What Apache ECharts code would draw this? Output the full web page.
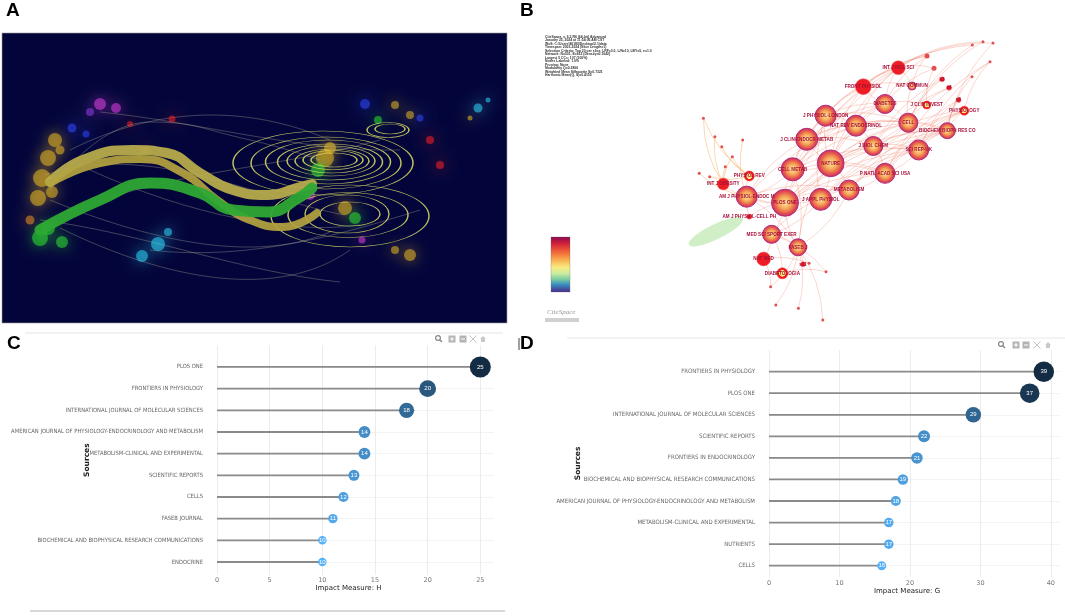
<!DOCTYPE html>
<html>
<head>
<meta charset="utf-8">
<script src="https://cdn.jsdelivr.net/npm/echarts@6/dist/echarts.min.js"></script>
<style>
  html, body { margin: 0; padding: 0; background: #fff; }
  #main { width: 1065px; height: 616px; }
</style>
</head>
<body>
<div id="main"></div>
<script>
// ---- panel C : impact measure H ----
var cSources = ['PLOS ONE', 'FRONTIERS IN PHYSIOLOGY', 'INTERNATIONAL JOURNAL OF MOLECULAR SCIENCES',
  'AMERICAN JOURNAL OF PHYSIOLOGY-ENDOCRINOLOGY AND METABOLISM', 'METABOLISM-CLINICAL AND EXPERIMENTAL',
  'SCIENTIFIC REPORTS', 'CELLS', 'FASEB JOURNAL', 'BIOCHEMICAL AND BIOPHYSICAL RESEARCH COMMUNICATIONS', 'ENDOCRINE'];
var cH = [25, 20, 18, 14, 14, 13, 12, 11, 10, 10];

// ---- panel D : impact measure G ----
var dSources = ['FRONTIERS IN PHYSIOLOGY', 'PLOS ONE', 'INTERNATIONAL JOURNAL OF MOLECULAR SCIENCES',
  'SCIENTIFIC REPORTS', 'FRONTIERS IN ENDOCRINOLOGY', 'BIOCHEMICAL AND BIOPHYSICAL RESEARCH COMMUNICATIONS',
  'AMERICAN JOURNAL OF PHYSIOLOGY-ENDOCRINOLOGY AND METABOLISM', 'METABOLISM-CLINICAL AND EXPERIMENTAL',
  'NUTRIENTS', 'CELLS'];
var dG = [39, 37, 29, 22, 21, 19, 18, 17, 17, 16];

// ---- panel A : dual-map overlay (picture coordinates) ----
var aBandUpper = [[50,182],[83,160],[133,150],[167,153],[200,173],[233,190],[267,195],[300,187],[312,184]];
var aBandLower = [[50,183],[100,163],[140,159],[183,173],[217,200],[250,220],[283,227],[317,213]];
var aBandGreen = [[40,230],[100,200],[150,183],[200,193],[233,210],[267,212],[300,197],[312,188]];
var aThin = [
  [[50,190],[150,122],[250,140],[320,160]],
  [[50,200],[160,245],[260,262],[330,232]],
  [[60,228],[170,282],[280,300],[350,250]],
  [[100,112],[200,122],[300,152],[400,150]],
  [[150,250],[250,262],[350,232],[420,210]],
  [[40,220],[140,232],[240,272],[340,282]],
  [[70,150],[170,100],[260,110],[330,140]],
  [[90,170],[190,215],[290,235],[360,225]],
  [[45,175],[150,140],[260,200],[345,215]],
  [[60,215],[170,170],[270,170],[380,140]]
];
var aClouds = [
  [55,140,14,0],[48,158,16,0],[42,178,18,0],[38,198,16,0],[60,150,9,0],[30,220,9,6],[52,192,12,0],
  [48,228,14,1],[40,238,16,1],[62,242,12,1],[100,104,12,2],[116,108,10,2],[90,112,8,7],
  [72,128,9,3],[86,134,7,3],[130,124,6,4],[145,150,6,4],[172,119,7,4],[158,244,14,5],
  [142,256,12,5],[168,232,8,5],
  [325,158,18,0],[318,170,14,1],[330,148,12,0],[310,195,10,2],[345,208,14,0],[355,218,12,1],
  [365,104,10,3],[378,120,8,1],[395,105,8,0],[410,115,8,0],[430,140,8,4],[440,165,8,4],
  [420,118,7,3],[478,108,9,5],[488,100,5,5],[410,255,12,0],[395,250,8,0],[362,240,7,2],[470,118,5,0]
];
var aRings = [
  [323,163,180,64],[326,163,150,52],[328,162,125,44],[330,162,105,36],[331,161,88,30],[332,161,74,24],[333,160,60,19],[334,160,46,14],
  [350,216,158,62],[348,215,120,45],[347,214,84,38],[350,214,60,24],
  [388,130,42,15],[390,129,30,10]
];
var aLabels = [
  [82,110,'5. PHYSICS, MATERIALS, CHEMISTRY',0],
  [50,125,'3. ECOLOGY, EARTH, MARINE',0],
  [40,136,'7. VETERINARY, ANIMAL, SCIENCE',0],
  [100,140,'1. MATHEMATICS, SYSTEMS, MATHEMATICAL',0],
  [5,182,'4. MOLECULAR, BIOLOGY, IMMUNOLOGY',0],
  [10,233,'2. MEDICINE, MEDICAL, CLINICAL',0],
  [120,239,'10. ECONOMICS, ECONOMIC, POLITICAL',0],
  [100,244,'6. PSYCHOLOGY, EDUCATION, HEALTH',0],
  [387,112,'4. CHEMISTRY, MATERIALS, PHYSICS',1],
  [413,115,'1. MATHEMATICS, MATHEMATICAL, MECHANICS',1],
  [346,118,'10. PLANT, ECOLOGY, ZOOLOGY',1],
  [345,130,'8. ENVIRONMENTAL, TOXICOLOGY, NUTRITION',0],
  [407,146,'5. SYSTEMS, COMPUTING, COMPUTER',1],
  [292,163,'2. MOLECULAR, BIOLOGY, GENETICS',1],
  [298,203,'5. HEALTH, NURSING, MEDICINE',1],
  [323,217,'8. SPORTS, REHABILITATION, SPORT',1],
  [395,219,'3. VETERINARY, ANIMAL, SCIENCE',1],
  [358,252,'7. PSYCHOLOGY, EDUCATION, SOCIAL',0],
  [377,256,'12. ECONOMICS, ECONOMIC, POLITICAL',0],
  [484,87,'Brown',2]
];

// ---- panel B : journal co-citation network (picture coordinates) ----
// name, x, y, node size, look (0 gradient, 1 solid red, 2 ring, 3 small)
var bNodes = [
  ['NATURE',830.7,163.3,26.7,0],['PLOS ONE',785,202.7,27,0],['CELL METAB',792.7,169.3,23,0],
  ['J APPL PHYSIOL',820.7,199.3,22,0],['AM J PHYSIOL-ENDOC M',746.7,196.7,21,0],['J CLIN ENDOCR METAB',806.7,139.3,22,0],
  ['J PHYSIOL-LONDON',825.7,115.7,21,0],['NAT REV ENDOCRINOL',856,125.7,21,0],['DIABETES',885,104,19,0],
  ['CELL',908.3,122.7,19,0],['J BIOL CHEM',873.3,146,19,0],['SCI REP-UK',918.7,150,20,0],
  ['P NATL ACAD SCI USA',885,173.3,20,0],['METABOLISM',849,190,20,0],['BIOCHEM BIOPH RES CO',947.3,130.7,16,0],
  ['FRONT PHYSIOL',863.3,86.7,16,1],['INT J MOL SCI',898.3,67.7,14,1],['MED SCI SPORT EXER',771.6,234.3,18,0],
  ['FASEB J',798,247.3,17,0],['NAT MED',763.6,259,14,1],['DIABETOLOGIA',782.4,273.3,11,2],
  ['INT J OBESITY',723.3,184,12,1],['PHYSIOL REV',749.3,176,10,2],['J CLIN INVEST',926.7,105,8,2],
  ['PHYSIOLOGY',964.3,110.7,9,2],['NAT COMMUN',912,86,8,0],['AM J PHYSIOL-CELL PH',749.3,216.7,5,1],
  ['s1',927,56,5,3],['s2',934,68.3,5,3],['s3',942,79.3,5,1],['s4',949,87.7,5,1],['s5',958.5,100,5,1],
  ['s6',972.4,45,3,3],['s7',983,41.7,3,3],['s8',993,43,3,3],['s9',990,61.7,3,3],['s10',972,76.7,3,3],
  ['s11',803,264.3,5,1],['s12',770.6,286.7,3,3],['s13',775.8,305,3,3],['s14',798.4,308.3,3,3],
  ['s15',822.8,320,3,3],['s16',826,271.7,3,3],['s17',809,263.3,3,3],
  ['s18',703.4,118.3,3,3],['s19',714.9,136.7,3,3],['s20',721.8,146.7,3,3],['s21',732.3,156.7,3,3],
  ['s22',725.3,166.7,3,3],['s23',709.7,176.7,3,3],['s24',699.2,173.3,3,3],['s25',742.7,140,3,3]
];
var bLinks = [
  [0,1],[0,2],[0,3],[0,5],[0,6],[0,7],[0,10],[0,12],[0,13],[0,9],[0,11],[0,8],[1,2],[1,3],[1,4],[1,13],
  [1,11],[1,16],[1,12],[2,5],[2,6],[2,4],[2,7],[2,8],[3,6],[3,13],[3,17],[3,4],[4,5],[4,21],[4,22],
  [5,6],[5,7],[5,8],[6,7],[6,15],[6,8],[7,8],[7,9],[7,10],[8,9],[8,15],[8,23],[9,10],[9,11],[9,14],
  [9,25],[10,11],[10,12],[10,14],[11,14],[11,12],[12,13],[12,14],[13,3],[14,24],[15,16],[15,25],
  [16,27],[16,28],[9,29],[9,30],[14,31],[11,31],[15,32],[16,33],[16,34],[24,35],[14,36],[11,24],
  [17,18],[17,19],[17,20],[18,37],[18,38],[18,39],[18,40],[18,41],[20,42],[19,43],[17,3],[18,1],[18,0],
  [21,44],[21,45],[22,46],[22,47],[21,48],[22,49],[4,50],[4,51],[22,44],[21,47],[26,4],[26,1],
  [1,9],[1,10],[1,14],[1,15],[2,11],[2,12],[2,9],[3,12],[3,11],[3,14],[4,13],[4,7],[5,10],[5,9],
  [5,15],[6,16],[6,9],[7,16],[7,14],[8,16],[8,27],[8,28],[10,29],[10,30],[12,31],[12,24],[13,11],
  [13,14],[13,24],[0,15],[0,16],[0,14],[2,16],[3,24],[9,32],[9,33],[11,35],[14,34],[15,27],[16,25],
  [23,28],[25,27],[12,35],[10,24],[4,18],[1,17],[2,18],[13,18],[17,42],[19,38]
];

var fanTargets = [44,45,46,47,48,49,50,51];

var navy = '#03053a';
var cloudColors = ['#e8b820', '#30e030', '#e040e0', '#3048ff', '#ff2020', '#30d8f8', '#f09020', '#9040e0'];
var aLabelColors = ['#efe8b8', '#8fe6ea', '#7fe070'];
var narrow = "'Liberation Sans Narrow', 'DejaVu Sans Condensed', sans-serif";

var nodeGradient = {
  type: 'radial', x: 0.5, y: 0.5, r: 0.5,
  colorStops: [
    {offset: 0, color: '#ffeaa0'}, {offset: 0.45, color: '#f5a458'},
    {offset: 0.8, color: '#e24c4c'}, {offset: 1, color: '#c2306e'}
  ]
};
var ringGradient = {
  type: 'radial', x: 0.5, y: 0.5, r: 0.5,
  colorStops: [{offset: 0, color: '#fff6a0'}, {offset: 0.55, color: '#ffe060'}, {offset: 0.6, color: '#ee1c24'}, {offset: 1, color: '#ee1c24'}]
};

function nodeItem(n) {
  var look = n[4];
  var style;
  if (look === 0) style = {color: nodeGradient, borderColor: '#b02a80', borderWidth: 1};
  else if (look === 1) style = {color: '#ee1c24', borderColor: '#f07070', borderWidth: 0.5};
  else if (look === 2) style = {color: ringGradient, borderColor: '#ee1c24', borderWidth: 0.5};
  else style = {color: '#e05050', borderWidth: 0};
  return {
    name: n[0],
    value: [n[1], n[2]],
    symbolSize: n[3],
    itemStyle: style,
    label: {show: look !== 3}
  };
}

var linkItems = bLinks.map(function (l) {
  var orange = fanTargets.indexOf(l[1]) >= 0;
  return {source: l[0], target: l[1], lineStyle: orange ? {color: '#f4a040', opacity: 0.6} : {}};
});

function stemRender(params, api) {
  var s = api.coord([0, api.value(1)]);
  var e = api.coord([api.value(0), api.value(1)]);
  return {
    type: 'line',
    shape: {x1: s[0], y1: s[1], x2: e[0], y2: e[1]},
    style: {stroke: '#8a8a8a', lineWidth: 1.8}
  };
}

// plotly style mode bar drawn with plain shapes
function modeBar(xs, y) {
  var grey = '#b4b4b4';
  return [
    {type: 'circle', shape: {cx: xs[0] - 1, cy: y - 1, r: 2.4}, style: {stroke: '#888', lineWidth: 1.2, fill: null}},
    {type: 'line', shape: {x1: xs[0] + 0.8, y1: y + 0.8, x2: xs[0] + 3, y2: y + 3}, style: {stroke: '#888', lineWidth: 1.4}},
    {type: 'rect', shape: {x: xs[1] - 3.5, y: y - 3.5, width: 7, height: 7}, style: {fill: grey}},
    {type: 'line', shape: {x1: xs[1] - 2, y1: y, x2: xs[1] + 2, y2: y}, style: {stroke: '#fff', lineWidth: 1}},
    {type: 'line', shape: {x1: xs[1], y1: y - 2, x2: xs[1], y2: y + 2}, style: {stroke: '#fff', lineWidth: 1}},
    {type: 'rect', shape: {x: xs[2] - 3.5, y: y - 3.5, width: 7, height: 7}, style: {fill: grey}},
    {type: 'line', shape: {x1: xs[2] - 2, y1: y, x2: xs[2] + 2, y2: y}, style: {stroke: '#fff', lineWidth: 1}},
    {type: 'line', shape: {x1: xs[3] - 3.5, y1: y - 3.5, x2: xs[3] + 3.5, y2: y + 3.5}, style: {stroke: '#c4c4c4', lineWidth: 1}},
    {type: 'line', shape: {x1: xs[3] + 3.5, y1: y - 3.5, x2: xs[3] - 3.5, y2: y + 3.5}, style: {stroke: '#c4c4c4', lineWidth: 1}},
    {type: 'polygon', shape: {points: [[xs[4] - 3, y], [xs[4], y - 3], [xs[4] + 3, y], [xs[4] + 2, y], [xs[4] + 2, y + 3], [xs[4] - 2, y + 3], [xs[4] - 2, y]]}, style: {fill: '#c8c8c8'}}
  ];
}

var chart = echarts.init(document.getElementById('main'), null, {renderer: 'canvas'});

var hGrid = ['#ececec','#ececec','#ececec','#ececec','#ececec','#ececec','rgba(0,0,0,0)'];
var gGrid = ['#ececec','#ececec','#ececec','#ececec','#ececec','rgba(0,0,0,0)'];
var rowLines = ['rgba(0,0,0,0)','#f3f3f3','#f3f3f3','#f3f3f3','#f3f3f3','#f3f3f3','#f3f3f3','#f3f3f3','#f3f3f3','#f3f3f3','#f3f3f3','rgba(0,0,0,0)'];

var option = {
  backgroundColor: '#fff',
  animation: false,
  textStyle: {fontFamily: 'Liberation Sans'},
  grid: [
    {left: 2, top: 33, width: 505, height: 290, show: true, backgroundColor: navy, borderColor: '#9a9a9a', borderWidth: 0.6, outerBoundsMode: 'none'},
    {left: 520, top: 0, width: 545, height: 330, show: false, outerBoundsMode: 'none'},
    {left: 217, top: 345.3, width: 277, height: 229.7, show: false, outerBoundsMode: 'none'},
    {left: 769, top: 350.1, width: 291, height: 226.6, show: false, outerBoundsMode: 'none'}
  ],
  xAxis: [
    {gridIndex: 0, type: 'value', min: 2, max: 507, show: false},
    {gridIndex: 1, type: 'value', min: 520, max: 1065, show: false},
    {
      gridIndex: 2, type: 'value', min: 0, max: 26.3, interval: 5,
      axisLine: {show: false}, axisTick: {show: false},
      axisLabel: {color: '#777', fontSize: 6.5, margin: 2, fontFamily: 'DejaVu Sans', showMaxLabel: false,
        formatter: function (v) { return v % 5 === 0 ? v : ''; }},
      splitLine: {show: true, lineStyle: {color: hGrid, width: 1}},
      name: 'Impact Measure: H', nameLocation: 'middle', nameGap: 10, nameMoveOverlap: false,
      nameTextStyle: {color: '#222', fontSize: 7, fontFamily: 'DejaVu Sans', padding: [0, 14, 0, 0]}
    },
    {
      gridIndex: 3, type: 'value', min: 0, max: 41.3, interval: 10,
      axisLine: {show: false}, axisTick: {show: false},
      axisLabel: {color: '#777', fontSize: 6.5, margin: 3, fontFamily: 'DejaVu Sans', showMaxLabel: false,
        formatter: function (v) { return v % 10 === 0 ? v : ''; }},
      splitLine: {show: true, lineStyle: {color: gGrid, width: 1}},
      name: 'Impact Measure: G', nameLocation: 'middle', nameGap: 11, nameMoveOverlap: false,
      nameTextStyle: {color: '#222', fontSize: 7, fontFamily: 'DejaVu Sans', padding: [0, 15, 0, 0]}
    }
  ],
  yAxis: [
    {gridIndex: 0, type: 'value', min: 33, max: 323, inverse: true, show: false},
    {gridIndex: 1, type: 'value', min: 0, max: 330, inverse: true, show: false},
    {
      gridIndex: 2, type: 'value', min: 0, max: 10.6, interval: 1, inverse: true,
      axisLine: {show: false}, axisTick: {show: false},
      axisLabel: {color: '#666', fontSize: 5.8, margin: 14, fontFamily: narrow,
        formatter: function (v) { return cSources[v - 1] || ''; }},
      splitLine: {show: true, lineStyle: {color: rowLines, width: 1}},
      name: 'Sources', nameLocation: 'middle', nameGap: 126, nameRotate: 90, nameMoveOverlap: false,
      nameTextStyle: {color: '#222', fontSize: 7.5, fontWeight: 'bold', fontFamily: 'DejaVu Sans'}
    },
    {
      gridIndex: 3, type: 'value', min: 0, max: 10.51, interval: 1, inverse: true,
      axisLine: {show: false}, axisTick: {show: false},
      axisLabel: {color: '#666', fontSize: 6, margin: 14, fontFamily: narrow,
        formatter: function (v) { return dSources[v - 1] || ''; }},
      splitLine: {show: true, lineStyle: {color: rowLines, width: 1}},
      name: 'Sources', nameLocation: 'middle', nameGap: 187, nameRotate: 90, nameMoveOverlap: false,
      nameTextStyle: {color: '#222', fontSize: 7.5, fontWeight: 'bold', fontFamily: 'DejaVu Sans'}
    }
  ],
  visualMap: [
    {type: 'continuous', show: false, seriesIndex: 10, dimension: 0, min: 10, max: 25,
      inRange: {color: ['#56B1F7', '#132B43'], symbolSize: [8.5, 21]}},
    {type: 'continuous', show: false, seriesIndex: 12, dimension: 0, min: 16, max: 39,
      inRange: {color: ['#56B1F7', '#132B43'], symbolSize: [9, 20.5]}}
  ],
  series: [
    // 0 clouds of journals in panel A
    {
      type: 'scatter', xAxisIndex: 0, yAxisIndex: 0, silent: true,
      data: aClouds.map(function (c) {
        var col = cloudColors[c[3]];
        return {value: c, itemStyle: {color: col, opacity: 0.55, shadowBlur: 14, shadowColor: col}};
      }),
      symbolSize: function (v) { return v[2]; }
    },
    // 1 thin citation curve
    {
      type: 'line', xAxisIndex: 0, yAxisIndex: 0, silent: true, smooth: 0.5, showSymbol: false,
      data: aThin[0], lineStyle: {color: 'rgba(200,195,170,0.45)', width: 0.7}
    },
    // 2 more thin curves
    {
      type: 'custom', xAxisIndex: 0, yAxisIndex: 0, silent: true,
      data: aThin.slice(1).map(function (c, i) { return [i]; }),
      renderItem: function (params, api) {
        var c = aThin[api.value(0) + 1].map(function (p) { return api.coord(p); });
        return {
          type: 'bezierCurve',
          shape: {x1: c[0][0], y1: c[0][1], cpx1: c[1][0], cpy1: c[1][1], cpx2: c[2][0], cpy2: c[2][1], x2: c[3][0], y2: c[3][1]},
          style: {stroke: 'rgba(200,195,170,0.45)', lineWidth: 0.7, fill: null}
        };
      }
    },
    // 3-5 thick trajectories
    {
      type: 'line', xAxisIndex: 0, yAxisIndex: 0, silent: true, smooth: 0.5, showSymbol: false,
      data: aBandUpper, lineStyle: {color: 'rgba(188,176,76,0.92)', width: 10, cap: 'round'}
    },
    {
      type: 'line', xAxisIndex: 0, yAxisIndex: 0, silent: true, smooth: 0.5, showSymbol: false,
      data: aBandLower, lineStyle: {color: 'rgba(180,164,64,0.92)', width: 8, cap: 'round'}
    },
    {
      type: 'line', xAxisIndex: 0, yAxisIndex: 0, silent: true, smooth: 0.5, showSymbol: false,
      data: aBandGreen, lineStyle: {color: 'rgba(46,168,52,0.95)', width: 11, cap: 'round'}
    },
    // 6 ellipses
    {
      type: 'scatter', xAxisIndex: 0, yAxisIndex: 0, silent: true,
      data: aRings,
      symbolSize: function (v) { return [v[2], v[3]]; },
      itemStyle: {color: 'rgba(0,0,0,0)', borderColor: 'rgba(210,214,96,0.9)', borderWidth: 0.9, opacity: 1}
    },
    // 7 cluster labels
    {
      type: 'scatter', xAxisIndex: 0, yAxisIndex: 0, silent: true, symbolSize: 1,
      itemStyle: {opacity: 0},
      data: aLabels.map(function (l) {
        return {
          value: [l[0], l[1]],
          label: {
            show: true, position: 'right', distance: 0, formatter: l[2],
            color: aLabelColors[l[3]], fontSize: l[3] === 0 && l[0] < 250 ? 4.8 : 4.2,
            fontWeight: 'bold', fontFamily: narrow
          }
        };
      })
    },
    // 8 green leaf cluster of panel B
    {
      type: 'scatter', xAxisIndex: 1, yAxisIndex: 1, silent: true,
      data: [[715.7, 231.7]], symbolSize: [60, 15], symbolRotate: 26,
      itemStyle: {color: 'rgba(150,220,130,0.45)', opacity: 1}
    },
    // 9 network of panel B
    {
      type: 'graph', coordinateSystem: 'cartesian2d', xAxisIndex: 1, yAxisIndex: 1,
      silent: true,
      data: bNodes.map(nodeItem),
      links: linkItems,
      lineStyle: {color: '#ef8068', opacity: 0.45, width: 0.7, curveness: 0.15},
      label: {position: 'inside', color: '#a8103a', fontSize: 4.6, fontWeight: 'bold', fontFamily: 'Liberation Sans'}
    },
    // 10-11 panel C
    {
      type: 'scatter', xAxisIndex: 2, yAxisIndex: 2, z: 4,
      data: cH.map(function (v, i) { return [v, i + 1]; }),
      itemStyle: {opacity: 1},
      label: {show: true, position: 'inside', color: '#fff', fontSize: 6,
        formatter: function (p) { return p.value[0]; }}
    },
    {
      type: 'custom', xAxisIndex: 2, yAxisIndex: 2, z: 3, silent: true,
      data: cH.map(function (v, i) { return [v, i + 1]; }),
      renderItem: stemRender
    },
    // 12-13 panel D
    {
      type: 'scatter', xAxisIndex: 3, yAxisIndex: 3, z: 4,
      data: dG.map(function (v, i) { return [v, i + 1]; }),
      itemStyle: {opacity: 1},
      label: {show: true, position: 'inside', color: '#fff', fontSize: 6,
        formatter: function (p) { return p.value[0]; }}
    },
    {
      type: 'custom', xAxisIndex: 3, yAxisIndex: 3, z: 3, silent: true,
      data: dG.map(function (v, i) { return [v, i + 1]; }),
      renderItem: stemRender
    }
  ],
  graphic: [
    {type: 'text', left: 6, top: 1, style: {text: 'A', font: 'bold 19px Liberation Sans', fill: '#000'}},
    {type: 'text', left: 520, top: 1, style: {text: 'B', font: 'bold 19px Liberation Sans', fill: '#000'}},
    {type: 'text', left: 7, top: 334, style: {text: 'C', font: 'bold 19px Liberation Sans', fill: '#000'}},
    {type: 'text', left: 520, top: 334, style: {text: 'D', font: 'bold 19px Liberation Sans', fill: '#000'}},
    {type: 'line', shape: {x1: 25, y1: 333, x2: 503, y2: 333}, style: {stroke: '#e4e4e4', lineWidth: 1}},
    {type: 'line', shape: {x1: 30, y1: 611, x2: 505, y2: 611}, style: {stroke: '#d8d8d8', lineWidth: 2}},
    {type: 'line', shape: {x1: 567, y1: 338, x2: 1065, y2: 338}, style: {stroke: '#e8e8e8', lineWidth: 1}},
    {type: 'line', shape: {x1: 519, y1: 338, x2: 519, y2: 350}, style: {stroke: '#444', lineWidth: 1}},
    {
      type: 'text', left: 545, top: 35,
      style: {
        text: 'CiteSpace, v. 6.2.R6 (64-bit) Advanced\nJanuary 25, 2024 at 11:54:06 AM CST\nWoS: C:\\Users\\86180\\Desktop\\2.1\\data\nTimespan: 2003-2024 (Slice Length=1)\nSelection Criteria: Top 20 per slice, LRF=3.0, L/N=10, LBY=5, e=1.0\nNetwork: N=501, E=632 (Density=0.1042)\nLargest 5 CCs: 107 (100%)\nNodes Labeled: 1.0%\nPruning: None\nModularity Q=0.2806\nWeighted Mean Silhouette S=0.7321\nHarmonic Mean(Q, S)=0.4155',
        font: 'bold 3.4px Liberation Sans', lineHeight: 3.5, fill: '#333'
      }
    },
    {
      type: 'rect', shape: {x: 551, y: 237, width: 19, height: 55},
      style: {
        stroke: '#666', lineWidth: 0.3,
        fill: new echarts.graphic.LinearGradient(0, 0, 0, 1, [
          {offset: 0, color: '#8b0a50'}, {offset: 0.12, color: '#d0203a'}, {offset: 0.28, color: '#f26838'},
          {offset: 0.42, color: '#f8b050'}, {offset: 0.55, color: '#f8ea80'}, {offset: 0.66, color: '#cdeca0'},
          {offset: 0.76, color: '#80d0a0'}, {offset: 0.86, color: '#3a90c0'}, {offset: 1, color: '#4a2a88'}
        ])
      }
    },
    {type: 'text', left: 547, top: 309, style: {text: 'CiteSpace', font: 'italic 7px Liberation Serif', fill: '#999'}},
    {type: 'rect', shape: {x: 545, y: 318, width: 34, height: 4}, style: {fill: '#d0d0d0'}}
  ].concat(modeBar([439, 452, 463, 473, 483], 339), modeBar([1002, 1016, 1026, 1037, 1048], 345))
};

chart.setOption(option);
</script>
</body>
</html>
